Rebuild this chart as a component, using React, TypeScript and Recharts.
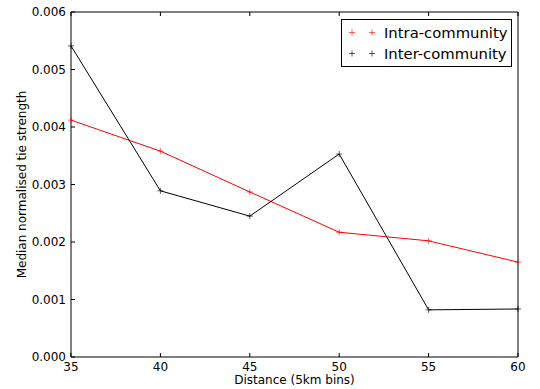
import React from "react";
import {
  LineChart,
  Line,
  XAxis,
  YAxis,
  Legend,
  Label,
} from "recharts";

const distances = [35, 40, 45, 50, 55, 60];
const intraCommunity = [0.00412, 0.00358, 0.00287, 0.00217, 0.00202, 0.00165];
const interCommunity = [0.00541, 0.00289, 0.00245, 0.00353, 0.00082, 0.000835];
const xTicks = [35, 40, 45, 50, 55, 60];
const yTicks = [0, 0.001, 0.002, 0.003, 0.004, 0.005, 0.006];

const SERIES = [
  { key: "intra", name: "Intra-community", color: "#ff0000" },
  { key: "inter", name: "Inter-community", color: "#000000" },
];

const FONT = "'DejaVu Sans', sans-serif";

const data = distances.map((d, i) => ({
  distance: d,
  intra: intraCommunity[i],
  inter: interCommunity[i],
}));

// matplotlib style '+' marker
const PlusDot = ({ cx, cy, stroke }: any) => {
  if (cx == null || cy == null) return null;
  const s = 3;
  return (
    <g stroke={stroke} strokeWidth={0.8} opacity={0.8}>
      <line x1={cx - s} y1={cy} x2={cx + s} y2={cy} />
      <line x1={cx} y1={cy - s} x2={cx} y2={cy + s} />
    </g>
  );
};

const renderLegend = () => (
  <div
    style={{
      border: "1px solid #000",
      background: "#fff",
      padding: "2px 0 2px 0",
      fontFamily: FONT,
      fontSize: 14.8,
      boxSizing: "border-box",
    }}
  >
    {SERIES.map((s) => (
      <div
        key={s.key}
        style={{ display: "flex", alignItems: "center", height: 21 }}
      >
        <svg width={42} height={21}>
          <PlusDot cx={10} cy={10.5} stroke={s.color} />
          <PlusDot cx={30} cy={10.5} stroke={s.color} />
        </svg>
        <span style={{ color: "#000" }}>{s.name}</span>
      </div>
    ))}
  </div>
);

const YLabel = ({ viewBox }: any) => {
  const cx = viewBox.x + 22;
  const cy = viewBox.y + viewBox.height / 2;
  return (
    <text
      x={cx}
      y={cy}
      transform={`rotate(-90, ${cx}, ${cy})`}
      textAnchor='middle'
      dominantBaseline='central'
      fontSize={12}
      fontFamily={FONT}
      fill='#000'
    >
      Median normalised tie strength
    </text>
  );
};

const XLabel = ({ viewBox }: any) => {
  const cx = viewBox.x + viewBox.width / 2;
  const cy = viewBox.y + 23;
  return (
    <text
      x={cx}
      y={cy}
      textAnchor='middle'
      dominantBaseline='central'
      fontSize={12}
      fontFamily={FONT}
      fill='#000'
    >
      Distance (5km bins)
    </text>
  );
};

const tickStyle = { fontSize: 12, fontFamily: FONT, fill: "#000" };

export default function App() {
  return (
    <div style={{ position: "absolute", left: 0, top: 0, background: "#fff" }}>
      <LineChart
        width={540}
        height={389}
        data={data}
        margin={{ top: 12, right: 22, left: 0, bottom: 0 }}
      >
        <XAxis
          xAxisId='bottom'
          dataKey='distance'
          type='number'
          domain={[35, 60]}
          ticks={xTicks}
          height={32}
          tick={tickStyle}
          tickSize={-4}
          tickMargin={9}
          stroke='#000'
        >
          <Label content={<XLabel />} />
        </XAxis>
        {/* mirrored top axis: frame line + inward ticks */}
        <XAxis
          xAxisId='top'
          orientation='top'
          mirror
          dataKey='distance'
          type='number'
          domain={[35, 60]}
          ticks={xTicks}
          height={30}
          tickSize={4}
          tickFormatter={() => ""}
          stroke='#000'
        />
        <YAxis
          yAxisId='left'
          type='number'
          domain={[0, 0.006]}
          ticks={yTicks}
          width={71}
          tick={tickStyle}
          tickSize={-4}
          tickMargin={9}
          tickFormatter={(v: number) => v.toFixed(3)}
          stroke='#000'
        >
          <Label content={<YLabel />} />
        </YAxis>
        {/* mirrored right axis: frame line + inward ticks */}
        <YAxis
          yAxisId='right'
          orientation='right'
          mirror
          type='number'
          domain={[0, 0.006]}
          ticks={yTicks}
          width={30}
          tickSize={4}
          tickFormatter={() => ""}
          stroke='#000'
        />
        {SERIES.map((s) => (
          <Line
            key={s.key}
            xAxisId='bottom'
            yAxisId='left'
            type='linear'
            dataKey={s.key}
            name={s.name}
            stroke={s.color}
            strokeWidth={1}
            dot={<PlusDot stroke={s.color} />}
            activeDot={false}
            isAnimationActive={false}
          />
        ))}
        <Legend
          layout='vertical'
          verticalAlign='middle'
          align='center'
          content={renderLegend}
          wrapperStyle={{ top: 19, left: 341, width: 171, height: 47 }}
        />
      </LineChart>
    </div>
  );
}
